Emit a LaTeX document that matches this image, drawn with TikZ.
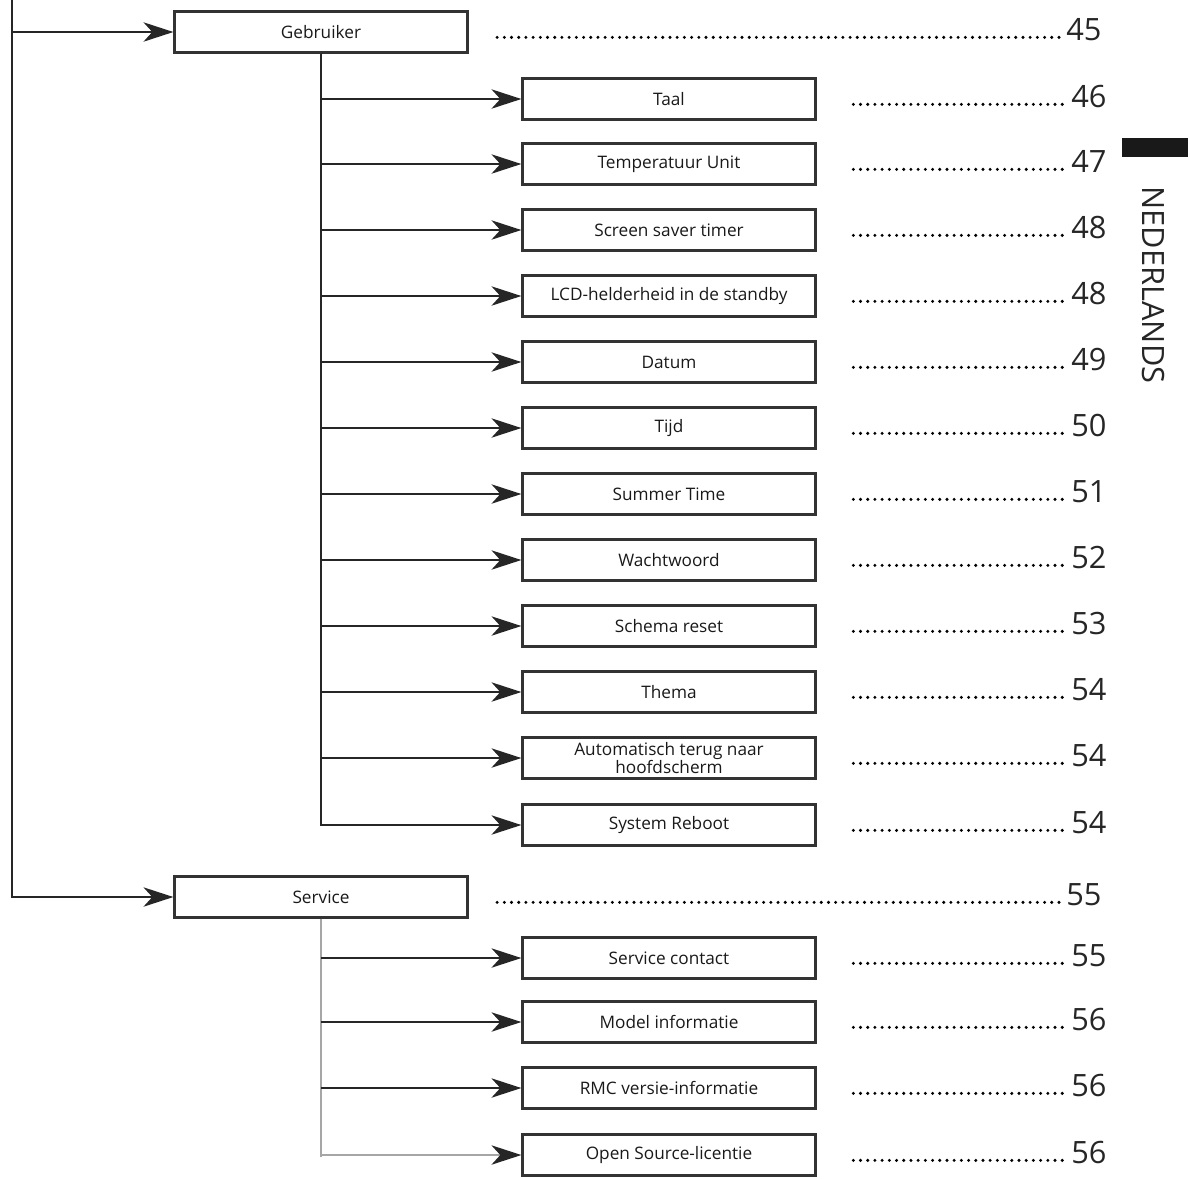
\documentclass[tikz,border=0pt]{standalone}
\usepackage{fontspec}
\setmainfont{Open Sans}
\usetikzlibrary{arrows.meta}
\tikzset{
  menubox/.style={draw=black!80, line width=1.3pt, minimum width=5.86cm, minimum height=0.82cm,
    inner sep=0pt, align=center, font=\fontsize{9.8}{10.5}\selectfont, text=black!90},
  link/.style={line width=1.3pt, draw=black!85, -{Stealth[length=17pt,width=11pt,inset=5pt,color=black!85]}},
  leader/.style={line width=1.9pt, line cap=round, dash pattern=on 0pt off 4.1pt},
  pagenr/.style={anchor=base west, inner sep=0pt, font=\fontsize{17.5}{20}\selectfont, text=black!85},
}
\begin{document}
\begin{tikzpicture}[x=0.02cm,y=-0.02cm]
	\useasboundingbox (0,0) rectangle (1190,1178);
	% main branches
	\coordinate (root) at (12,0);
	\node[menubox] (gebruiker) at (321,32) {Gebruiker};
	\node[menubox] (service) at (321,897) {Service};
	\draw[link] (root) |- (gebruiker);
	\draw[link] (root) |- (service);
	\node[pagenr] (pgebruiker) at (1066,40) {45};
	\node[pagenr] (pservice) at (1066,905) {55};
	\draw[leader] ([xshift=-4pt,yshift=1.5pt]pgebruiker.base west) -- +(-566,0);
	\draw[leader] ([xshift=-4pt,yshift=1.5pt]pservice.base west) -- +(-566,0);
	% Gebruiker
	\foreach \nm/\txt/\yy/\pg in {taal/Taal/99/46, temp/Temperatuur Unit/164/47,
		saver/Screen saver timer/230/48, lcd/LCD-helderheid in de standby/296/48,
		datum/Datum/362/49, tijd/Tijd/428/50, summer/Summer Time/494/51,
		wacht/Wachtwoord/560/52, schema/Schema reset/626/53, thema/Thema/692/54,
		auto/{Automatisch terug naar\\hoofdscherm}/758/54, reboot/System Reboot/825/54}{
		\node[menubox] (\nm) at (669,\yy) {\txt};
		\draw[link] (gebruiker.south) |- (\nm);
		\node[pagenr] (p\nm) at (1071,\yy+8) {\pg};
		\draw[leader] ([xshift=-5pt,yshift=1.5pt]p\nm.base west) -- +(-214,0);
	}
	% Service
	\draw[line width=1.3pt, black!35] (service.south) -- +(0,238);
	\foreach \nm/\txt/\yy/\pg/\col in {contact/Service contact/958/55/black!85,
		model/Model informatie/1022/56/black!85, rmc/RMC versie-informatie/1088/56/black!85,
		licentie/Open Source-licentie/1155/56/black!35}{
		\node[menubox] (\nm) at (669,\yy) {\txt};
		\draw[link, draw=\col] (service.south |- \nm.west) -- (\nm);
		\node[pagenr] (p\nm) at (1071,\yy+8) {\pg};
		\draw[leader] ([xshift=-5pt,yshift=1.5pt]p\nm.base west) -- +(-214,0);
	}
	% language tab
	\fill[black!90] (1122,138) rectangle (1188,157);
	\node[rotate=-90, font=\fontsize{17.5}{20}\selectfont, text=black!85] (lang) at (1153,285) {NEDERLANDS};
\end{tikzpicture}
\end{document}
